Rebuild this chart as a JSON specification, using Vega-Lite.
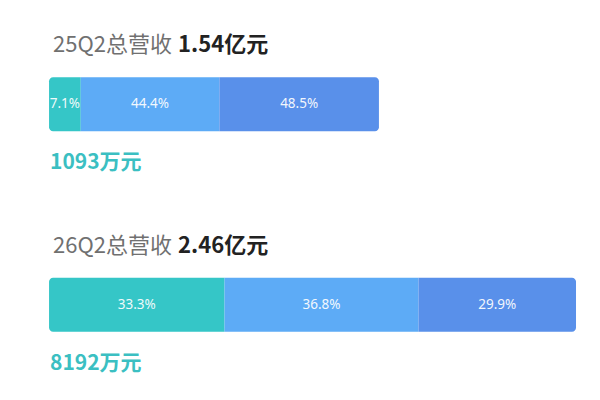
{
  "$schema": "https://vega.github.io/schema/vega-lite/v6.json",
  "width": 600,
  "height": 400,
  "autosize": {"type": "fit", "contains": "padding"},
  "padding": 0,
  "background": "white",
  "config": {"view": {"stroke": null}, "font": "Noto Sans CJK SC"},
  "datasets": {
    "segments": [
      {"period": "25Q2", "seg": "A", "value": 0.148, "label": "7.1%"},
      {"period": "25Q2", "seg": "B", "value": 0.647, "label": "44.4%"},
      {"period": "25Q2", "seg": "C", "value": 0.745, "label": "48.5%"},
      {"period": "26Q2", "seg": "A", "value": 0.8192, "label": "33.3%"},
      {"period": "26Q2", "seg": "B", "value": 0.9053, "label": "36.8%"},
      {"period": "26Q2", "seg": "C", "value": 0.7355, "label": "29.9%"}
    ],
    "totals": [
      {"period": "25Q2", "name": "25Q2总营收", "total": "1.54亿元", "sub": "1093万元"},
      {"period": "26Q2", "name": "26Q2总营收 ", "total": "2.46亿元", "sub": "8192万元"}
    ]
  },
  "encoding": {
    "y": {
      "field": "period",
      "type": "nominal",
      "axis": null,
      "scale": {"domain": ["25Q2", "26Q2"], "range": [4, 405], "paddingInner": 0.73, "paddingOuter": 0.365}
    }
  },
  "layer": [
    {
      "data": {"name": "segments"},
      "transform": [
        {"stack": "value", "groupby": ["period"], "sort": [{"field": "seg"}], "as": ["x0", "x1"]}
      ],
      "layer": [
        {
          "transform": [{"filter": "datum.seg === 'A'"}],
          "mark": {"type": "bar", "cornerRadiusTopLeft": 4, "cornerRadiusBottomLeft": 4}
        },
        {
          "transform": [{"filter": "datum.seg === 'B'"}],
          "mark": {"type": "bar"}
        },
        {
          "transform": [{"filter": "datum.seg === 'C'"}],
          "mark": {"type": "bar", "cornerRadiusTopRight": 4, "cornerRadiusBottomRight": 4}
        }
      ],
      "encoding": {
        "x": {
          "field": "x0",
          "type": "quantitative",
          "axis": null,
          "scale": {"domain": [-0.229, 2.572], "nice": false, "zero": false}
        },
        "x2": {"field": "x1"},
        "color": {
          "field": "seg",
          "type": "nominal",
          "legend": null,
          "scale": {"domain": ["A", "B", "C"], "range": ["#35C6C7", "#5DABF6", "#5990EA"]}
        }
      }
    },
    {
      "data": {"name": "segments"},
      "transform": [
        {"stack": "value", "groupby": ["period"], "sort": [{"field": "seg"}], "as": ["x0", "x1"]},
        {"fold": ["x0", "x1"], "as": ["edge", "pos"]},
        {"aggregate": [{"op": "mean", "field": "pos", "as": "mid"}], "groupby": ["period", "seg", "label"]}
      ],
      "mark": {"type": "text", "font": "Noto Sans", "fontSize": 13.5, "color": "#ffffff", "opacity": 0.92, "baseline": "middle"},
      "encoding": {
        "x": {"field": "mid", "type": "quantitative"},
        "text": {"field": "label"}
      }
    },
    {
      "data": {"name": "totals"},
      "mark": {"type": "text", "align": "left", "baseline": "alphabetic", "fontSize": 22, "color": "#707070", "dx": 4, "dy": -52},
      "encoding": {
        "x": {"datum": 0, "type": "quantitative"},
        "text": {"field": "name"}
      }
    },
    {
      "data": {"name": "totals"},
      "mark": {"type": "text", "align": "left", "baseline": "alphabetic", "fontSize": 22, "fontWeight": "bold", "color": "#222222", "dx": 129, "dy": -52},
      "encoding": {
        "x": {"datum": 0, "type": "quantitative"},
        "text": {"field": "total"}
      }
    },
    {
      "data": {"name": "totals"},
      "mark": {"type": "text", "align": "left", "baseline": "alphabetic", "fontSize": 21, "fontWeight": "bold", "color": "#3BBFC2", "dx": 1, "dy": 65},
      "encoding": {
        "x": {"datum": 0, "type": "quantitative"},
        "text": {"field": "sub"}
      }
    }
  ]
}
